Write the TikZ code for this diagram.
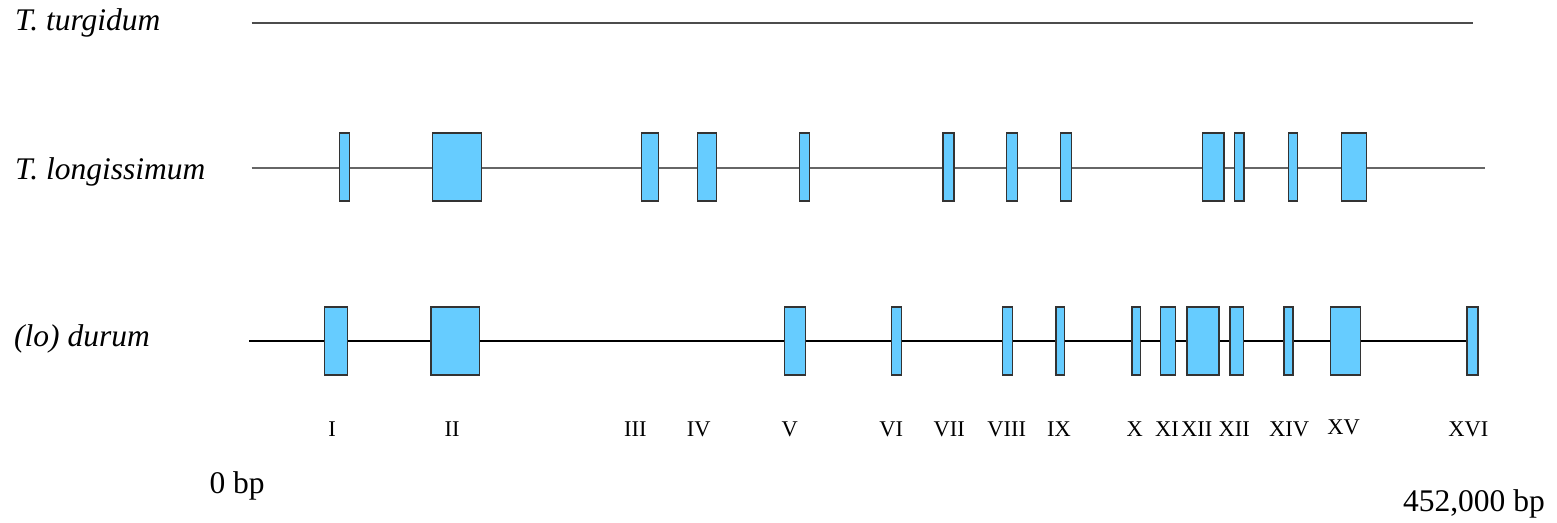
\documentclass[tikz,border=0pt]{standalone}
\usepackage{fontspec}
\setmainfont{Liberation Serif}
\usetikzlibrary{positioning}
\definecolor{locusblue}{HTML}{66CCFF}

\begin{document}
\begin{tikzpicture}[
    x=1pt, y=-1pt,
    species/.style={font=\fontsize{31.5}{36}\selectfont\itshape, anchor=base west, inner sep=0pt},
    chrom/.style={line width=1.3pt, black!70},
    locus/.style={draw=black!80, fill=locusblue, line width=1.5pt, inner sep=0pt, minimum height=68pt},
    numeral/.style={font=\fontsize{22.5}{26}\selectfont, anchor=base, inner sep=0pt},
    bplabel/.style={font=\fontsize{31.5}{36}\selectfont, inner sep=0pt}
]
\useasboundingbox (0,0) rectangle (1557,522);

% Species labels
\node[species] (turg) at (15,30) {T. turgidum};
\node[species] (long) at (15,179.3) {T. longissimum};
\node[species] (dur) at (14,346.7) {(lo) durum};

% Chromosome lines
\coordinate (turg-s) at (251.7,22.7);
\coordinate (turg-e) at (1473.3,22.7);
\coordinate (long-s) at (251.7,167.7);
\coordinate (long-e) at (1484.5,167.7);
\coordinate (dur-s) at (249.3,341);
\coordinate (dur-e) at (1479.2,341);
\draw[chrom, line width=2.2pt] (turg-s) -- (turg-e);
\draw[chrom, black!60, line width=1.8pt] (long-s) -- (long-e);
\draw[chrom, black, line width=1.3pt] (dur-s) -- (dur-e);

% Loci on T. longissimum
\foreach \l/\r [count=\i] in {339.3/349.3, 432.3/481.7, 641.7/658.3, 697.3/716.7,
    799.7/809.7, 943/954, 1006.3/1017.3, 1060.4/1071.4, 1202.5/1223.8,
    1234.5/1244, 1288.5/1297.7, 1341.7/1366.3}
  \node[locus, minimum width={\r-\l}] (lg\i) at ({(\l+\r)/2},167.2) {};

% Loci on durum
\foreach \l/\r [count=\i] in {324.3/347.3, 431/479.3, 784.3/805.7, 891.7/901.3,
    1002.3/1012.3, 1055.8/1064.3, 1132.1/1140.7, 1160.6/1175.5, 1187.2/1219.2,
    1229.8/1243.7, 1283.8/1293.1, 1330.4/1360.6, 1466.8/1478.2}
  \node[locus, minimum width={\r-\l}] (dr\i) at ({(\l+\r)/2},341) {};

% Locus numbers
\foreach \x/\y/\t [count=\i] in {332/436.5/I, 452.2/436.5/II, 635.3/436.5/III,
    698.7/436.5/IV, 789.7/436.5/V, 891.3/436.5/VI, 949.2/436.5/VII,
    1006.7/436.5/VIII, 1059/436.5/IX, 1134.7/436.5/X, 1167/436.5/XI,
    1196.7/436.5/XII, 1234.2/436.5/XII, 1289.2/436.5/XIV, 1343.5/434.5/XV,
    1468.3/436.5/XVI}
  \node[numeral] (num\i) at (\x,\y) {\t};

% Scale
\node[bplabel, anchor=base west] (bp0) at (209.3,493.3) {0 bp};
\node[bplabel, anchor=base east] (bpend) at (1545,511.7) {452,000 bp};

\end{tikzpicture}
\end{document}
